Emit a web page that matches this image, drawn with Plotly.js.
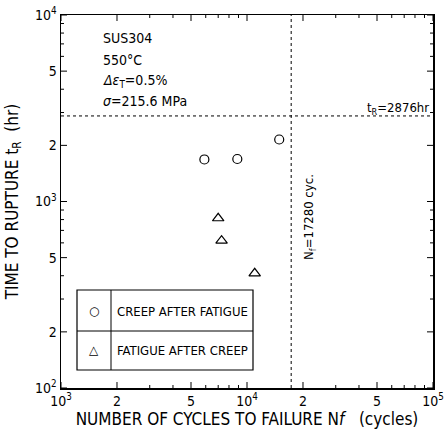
<!DOCTYPE html>
<html>
<head>
<meta charset="utf-8">
<script src="https://cdn.plot.ly/plotly-3.0.1.min.js"></script>
<style>html,body{margin:0;padding:0;background:#fff;}#chart{width:445px;height:431px;}</style>
</head>
<body>
<div id="chart"></div>
<script>
// Data
const creepAfterFatigueN = [5900, 8870, 14900];
const creepAfterFatigueT = [1680, 1690, 2150];
const fatigueAfterCreepN = [7000, 7300, 11000];
const fatigueAfterCreepT = [813, 617, 412];
const ruptureTime = 2876;      // tR line (hr)
const fatigueLife = 17280;     // Nf line (cycles)
const xRange = [1000, 100000];
const yRange = [100, 10000];
const xTickVals = [1000, 2000, 5000, 10000, 20000, 50000, 100000];
const xTickText = ['10<sup>3</sup>', '2', '5', '10<sup>4</sup>', '2', '5', '10<sup>5</sup>'];
const yTickVals = [100, 200, 500, 1000, 2000, 5000, 10000];
const yTickText = ['10<sup>2</sup>', '2', '5', '10<sup>3</sup>', '2', '5', '10<sup>4</sup>'];
const minorMult = [3, 4, 6, 7, 8, 9];
const legendLabels = ['CREEP AFTER FATIGUE', 'FATIGUE AFTER CREEP'];
const infoLines = ['SUS304', '550°C', '<i>Δε</i><sub>T</sub>=0.5%', '<i>σ</i>=215.6 MPa'];

const FONT = '"DejaVu Sans Condensed", "Liberation Sans Narrow", Arial, sans-serif';
const PW = 372, PH = 373; // plot area size in px

function minorVals(lo, hi) {
  const v = [];
  for (let d = lo; d < hi; d *= 10) minorMult.forEach(m => v.push(m * d));
  return v;
}

const traces = [
  { x: creepAfterFatigueN, y: creepAfterFatigueT, mode: 'markers', type: 'scatter',
    marker: { symbol: 'circle-open', size: 9, color: '#000', line: { width: 1.2, color: '#000' } } },
  { x: fatigueAfterCreepN, y: fatigueAfterCreepT, mode: 'markers', type: 'scatter',
    marker: { symbol: 'triangle-up-open', size: 10, color: '#000', line: { width: 1.2, color: '#000' } } },
  { x: xRange, y: [ruptureTime, ruptureTime], mode: 'lines', type: 'scatter',
    line: { color: '#000', width: 1, dash: 'dot' } },
  { x: [fatigueLife, fatigueLife], y: yRange, mode: 'lines', type: 'scatter',
    line: { color: '#000', width: 1, dash: 'dot' } }
];

const tickFont = { family: FONT, size: 14, color: '#000' };

const shapes = [];
// tick marks on all four sides (inside), positioned through the log axes (data values)
function addXTicks(vals, len) {
  vals.forEach(v => {
    shapes.push({ type: 'line', xref: 'x', yref: 'paper', x0: v, x1: v, y0: 0, y1: len / PH, line: { color: '#000', width: 1 } });
    shapes.push({ type: 'line', xref: 'x', yref: 'paper', x0: v, x1: v, y0: 1, y1: 1 - len / PH, line: { color: '#000', width: 1 } });
  });
}
function addYTicks(vals, len) {
  vals.forEach(v => {
    shapes.push({ type: 'line', xref: 'paper', yref: 'y', y0: v, y1: v, x0: 0, x1: len / PW, line: { color: '#000', width: 1 } });
    shapes.push({ type: 'line', xref: 'paper', yref: 'y', y0: v, y1: v, x0: 1, x1: 1 - len / PW, line: { color: '#000', width: 1 } });
  });
}
addXTicks(xTickVals, 6); addXTicks(minorVals(1000, 100000), 3);
addYTicks(yTickVals, 6); addYTicks(minorVals(100, 10000), 3);

// legend table
shapes.push({ type: 'rect', xref: 'paper', yref: 'paper', x0: (77-61)/PW, x1: (253-61)/PW, y0: (388-370)/PH, y1: (388-290)/PH, line: { color: '#000', width: 1.2 } });
shapes.push({ type: 'line', xref: 'paper', yref: 'paper', x0: (111-61)/PW, x1: (111-61)/PW, y0: (388-370)/PH, y1: (388-290)/PH, line: { color: '#000', width: 1 } });
shapes.push({ type: 'line', xref: 'paper', yref: 'paper', x0: (77-61)/PW, x1: (253-61)/PW, y0: (388-331)/PH, y1: (388-331)/PH, line: { color: '#000', width: 1 } });

const layout = {
  width: 445, height: 431,
  margin: { l: 61, r: 12, t: 15, b: 43 },
  paper_bgcolor: '#fff', plot_bgcolor: '#fff',
  showlegend: false,
  font: { family: FONT, color: '#000' },
  xaxis: {
    type: 'log', range: [3, 5], showgrid: false, zeroline: false,
    showline: true, linecolor: '#000', linewidth: 1.5, mirror: true, ticks: '',
    tickmode: 'array', tickvals: xTickVals, ticktext: xTickText, tickfont: tickFont,
    title: { text: 'NUMBER OF CYCLES TO FAILURE N<i>f</i>   (cycles)', font: { family: FONT, size: 17, color: '#000' }, standoff: 4 }
  },
  yaxis: {
    type: 'log', range: [2, 4], showgrid: false, zeroline: false,
    showline: true, linecolor: '#000', linewidth: 1.5, mirror: true, ticks: '',
    tickmode: 'array', tickvals: yTickVals, ticktext: yTickText, tickfont: tickFont,
    title: { text: 'TIME TO RUPTURE t<sub>R</sub>  (hr)', font: { family: FONT, size: 17, color: '#000' }, standoff: 12 }
  },
  shapes: shapes,
  annotations: []
};

const infoY = [38, 60, 81, 101];
infoLines.forEach((t, i) => {
  layout.annotations.push({ xref: 'paper', yref: 'paper', x: (101-61)/PW, y: (388-infoY[i])/PH, xanchor: 'left', yanchor: 'middle',
    text: t, showarrow: false, font: { family: FONT, size: 14, color: '#000' } });
});
// legend entries
const legY = [311, 350];
['○', '△'].forEach((s, i) => {
  layout.annotations.push({ xref: 'paper', yref: 'paper', x: (94-61)/PW, y: (388-legY[i])/PH, xanchor: 'center', yanchor: 'middle',
    text: s, showarrow: false, font: { family: 'DejaVu Sans', size: 12, color: '#000' } });
  layout.annotations.push({ xref: 'paper', yref: 'paper', x: (115-61)/PW, y: (388-legY[i])/PH, xanchor: 'left', yanchor: 'middle',
    text: legendLabels[i], showarrow: false, font: { family: FONT, size: 13, color: '#000' } });
});
layout.annotations.push({ xref: 'paper', yref: 'paper', x: (431-61)/PW, y: (388-108)/PH, xanchor: 'right', yanchor: 'middle',
  text: 't<sub>R</sub>=' + ruptureTime + 'hr', showarrow: false, font: { family: FONT, size: 13, color: '#000' } });
layout.annotations.push({ xref: 'paper', yref: 'paper', x: (309-61)/PW, y: (388-217)/PH, xanchor: 'center', yanchor: 'middle', textangle: -90,
  text: 'N<sub>f</sub>=' + fatigueLife + ' cyc.', showarrow: false, font: { family: FONT, size: 13, color: '#000' } });

Plotly.newPlot('chart', traces, layout, { staticPlot: true, displayModeBar: false });
</script>
</body>
</html>
